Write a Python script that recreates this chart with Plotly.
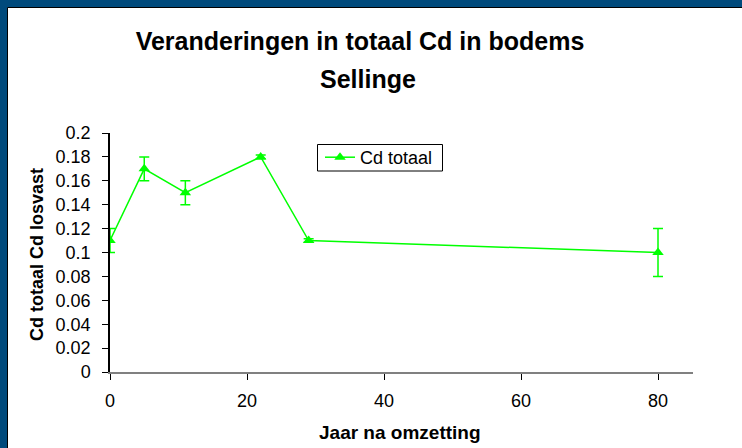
import plotly.graph_objects as go

# Data
jaar = [0, 5, 11, 22, 29, 80]
cd_totaal = [0.11, 0.17, 0.15, 0.18, 0.11, 0.10]
cd_err = [0.01, 0.01, 0.01, 0.0015, 0.0015, 0.02]
x_ticks = [0, 20, 40, 60, 80]
y_ticks = [0, 0.02, 0.04, 0.06, 0.08, 0.1, 0.12, 0.14, 0.16, 0.18, 0.2]
y_ticklabels = ["0", "0.02", "0.04", "0.06", "0.08", "0.1", "0.12", "0.14", "0.16", "0.18", "0.2"]

W, H = 742, 448
L, R, T, B = 110, 49, 133, 76
pw, ph = W - L - R, H - T - B

def px_x(p):
    return (p - L) / pw

def px_y(p):
    return (H - B - p) / ph

FONT = "Liberation Sans, Arial, sans-serif"
GREEN = "#00ff00"

fig = go.Figure()
fig.add_trace(go.Scatter(
    x=jaar, y=cd_totaal, mode="lines+markers", name="Cd totaal",
    line=dict(color=GREEN, width=1.5),
    marker=dict(symbol="triangle-up", size=10, color=GREEN),
    error_y=dict(type="data", array=cd_err, visible=True, color=GREEN, thickness=1.5, width=5),
))

fig.update_layout(
    width=W, height=H,
    margin=dict(l=L, r=R, t=T, b=B),
    paper_bgcolor="#004a7c",
    plot_bgcolor="rgba(0,0,0,0)",
    font=dict(family=FONT, color="black", size=18),
    title=dict(text="<b>Veranderingen in totaal Cd in bodems</b>", x=360 / W, xanchor="center",
               y=1 - 41 / H, yanchor="middle", font=dict(size=25, family=FONT, color="black")),
    showlegend=True,
    legend=dict(x=px_x(320), xanchor="left", y=px_y(139), yanchor="top",
                bgcolor="rgba(0,0,0,0)", borderwidth=0,
                font=dict(size=18, family=FONT), itemwidth=30,
                tracegroupgap=0),
    xaxis=dict(range=[0, (693 - 110) / ((658 - 110) / 80)], tickvals=x_ticks,
               showgrid=False, zeroline=False, showline=True, linecolor="#808080", linewidth=1.5,
               ticks="outside", ticklen=6, tickcolor="black", tickwidth=1,
               ticklabelstandoff=6,
               tickfont=dict(size=18, family=FONT), fixedrange=True),
    yaxis=dict(range=[0, 0.2], tickvals=y_ticks, ticktext=y_ticklabels,
               showgrid=False, zeroline=False, showline=True, linecolor="black", linewidth=1.5,
               ticks="outside", ticklen=6, tickcolor="black", tickwidth=1,
               ticklabelstandoff=8,
               tickfont=dict(size=18, family=FONT), fixedrange=True),
    shapes=[
        dict(type="rect", xref="paper", yref="paper", layer="below",
             x0=px_x(7.5), x1=px_x(780), y0=px_y(480), y1=px_y(7.5),
             fillcolor="white", line=dict(color="black", width=1)),
        dict(type="rect", xref="paper", yref="paper", layer="above",
             x0=px_x(317.5), x1=px_x(442.5), y0=px_y(171), y1=px_y(144.5),
             fillcolor="rgba(0,0,0,0)", line=dict(color="black", width=1)),
    ],
    annotations=[
        dict(text="<b>Sellinge</b>", xref="paper", yref="paper", x=px_x(368), y=px_y(79),
             xanchor="center", yanchor="middle", showarrow=False,
             font=dict(size=25, family=FONT, color="black")),
        dict(text="<b>Jaar na omzetting</b>", xref="paper", yref="paper", x=px_x(400), y=px_y(432),
             xanchor="center", yanchor="middle", showarrow=False,
             font=dict(size=19, family=FONT, color="black")),
        dict(text="<b>Cd totaal Cd losvast</b>", xref="paper", yref="paper", x=px_x(37), y=px_y(255),
             xanchor="center", yanchor="middle", showarrow=False, textangle=-90,
             font=dict(size=18, family=FONT, color="black")),
    ],
)

fig.write_html("out.html", config={"displayModeBar": False},
               post_script="document.body.style.margin='0';document.body.style.padding='0';")
